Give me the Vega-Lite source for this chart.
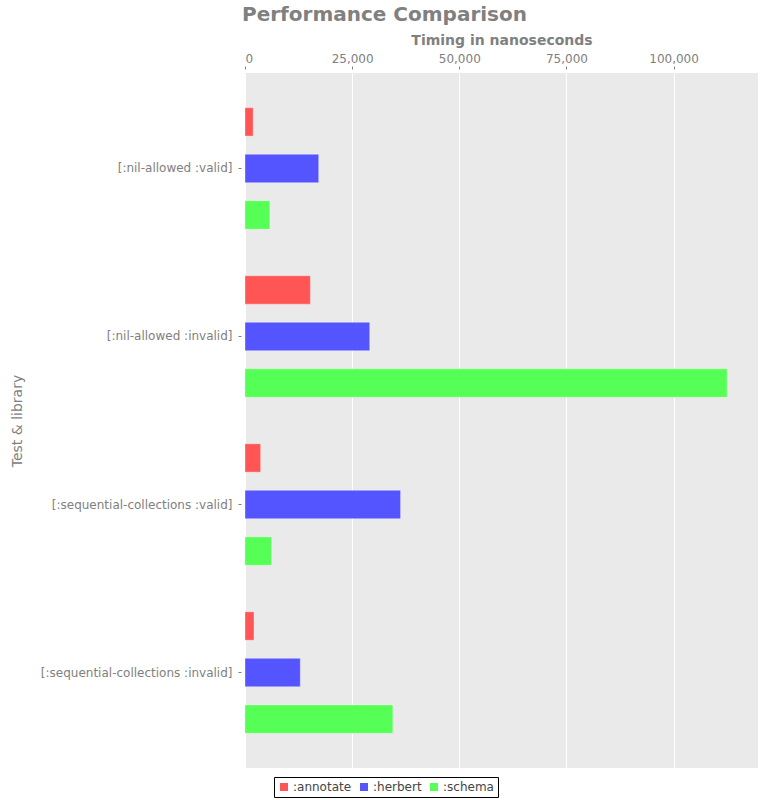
{
  "$schema": "https://vega.github.io/schema/vega-lite/v6.json",
  "autosize": {"type": "none"},
  "width": 513,
  "height": 695,
  "padding": {"left": 245, "top": 73, "right": 12, "bottom": 32},
  "background": "white",
  "title": {
    "text": "Performance Comparison",
    "anchor": "middle",
    "frame": "group",
    "dx": -117,
    "font": "DejaVu Sans",
    "fontSize": 20,
    "fontWeight": "bold",
    "color": "#808080",
    "offset": 8
  },
  "data": {
    "values": [
      {"test": "[:nil-allowed :valid]", "library": ":annotate", "time": 1900},
      {"test": "[:nil-allowed :valid]", "library": ":herbert", "time": 17200},
      {"test": "[:nil-allowed :valid]", "library": ":schema", "time": 5800},
      {"test": "[:nil-allowed :invalid]", "library": ":annotate", "time": 15250},
      {"test": "[:nil-allowed :invalid]", "library": ":herbert", "time": 29100},
      {"test": "[:nil-allowed :invalid]", "library": ":schema", "time": 112500},
      {"test": "[:sequential-collections :valid]", "library": ":annotate", "time": 3650},
      {"test": "[:sequential-collections :valid]", "library": ":herbert", "time": 36300},
      {"test": "[:sequential-collections :valid]", "library": ":schema", "time": 6200},
      {"test": "[:sequential-collections :invalid]", "library": ":annotate", "time": 2100},
      {"test": "[:sequential-collections :invalid]", "library": ":herbert", "time": 12900},
      {"test": "[:sequential-collections :invalid]", "library": ":schema", "time": 34500}
    ]
  },
  "mark": {"type": "bar", "strokeWidth": 1, "strokeOpacity": 0.35, "stroke": "white"},
  "encoding": {
    "y": {
      "field": "test",
      "type": "nominal",
      "sort": null,
      "scale": {"paddingInner": 0, "paddingOuter": 0.068},
      "axis": {
        "title": "Test & library",
        "titleFont": "DejaVu Sans",
        "titleFontSize": 14,
        "titleFontWeight": "normal",
        "titleColor": "#808080",
        "titlePadding": 17,
        "labelFont": "DejaVu Sans",
        "labelFontSize": 12,
        "labelColor": "#808080",
        "labelPadding": 6,
        "labelLimit": 400,
        "offset": 4,
        "tickSize": 3,
        "tickColor": "#808080",
        "domain": false,
        "grid": false
      }
    },
    "yOffset": {
      "field": "library",
      "type": "nominal",
      "scale": {"paddingInner": 0.39, "paddingOuter": 0.5}
    },
    "x": {
      "field": "time",
      "type": "quantitative",
      "scale": {"domain": [0, 119700], "nice": false},
      "axis": {
        "orient": "top",
        "title": "Timing in nanoseconds",
        "titleFont": "DejaVu Sans",
        "titleFontSize": 14,
        "titleFontWeight": "bold",
        "titleColor": "#808080",
        "titlePadding": 5,
        "labelFont": "DejaVu Sans",
        "labelFontSize": 12,
        "labelColor": "#808080",
        "labelPadding": 1,
        "offset": 4,
        "tickSize": 3,
        "tickColor": "#808080",
        "values": [0, 25000, 50000, 75000, 100000],
        "format": ",d",
        "domain": false,
        "grid": true,
        "gridColor": "white",
        "gridWidth": 1
      }
    },
    "color": {
      "field": "library",
      "type": "nominal",
      "scale": {"domain": [":annotate", ":herbert", ":schema"], "range": ["#FF5555", "#5555FF", "#55FF55"]},
      "legend": {
        "title": null,
        "orient": "none",
        "direction": "horizontal",
        "legendX": 29,
        "legendY": 704,
        "symbolType": "square",
        "symbolSize": 64,
        "symbolStrokeWidth": 0,
        "labelFont": "DejaVu Sans",
        "labelFontSize": 12,
        "labelColor": "#444444",
        "columnPadding": 6,
        "labelOffset": 3,
        "padding": 4,
        "strokeColor": "black",
        "fillColor": "white"
      }
    }
  },
  "config": {
    "view": {"fill": "#EAEAEA", "stroke": null}
  }
}
